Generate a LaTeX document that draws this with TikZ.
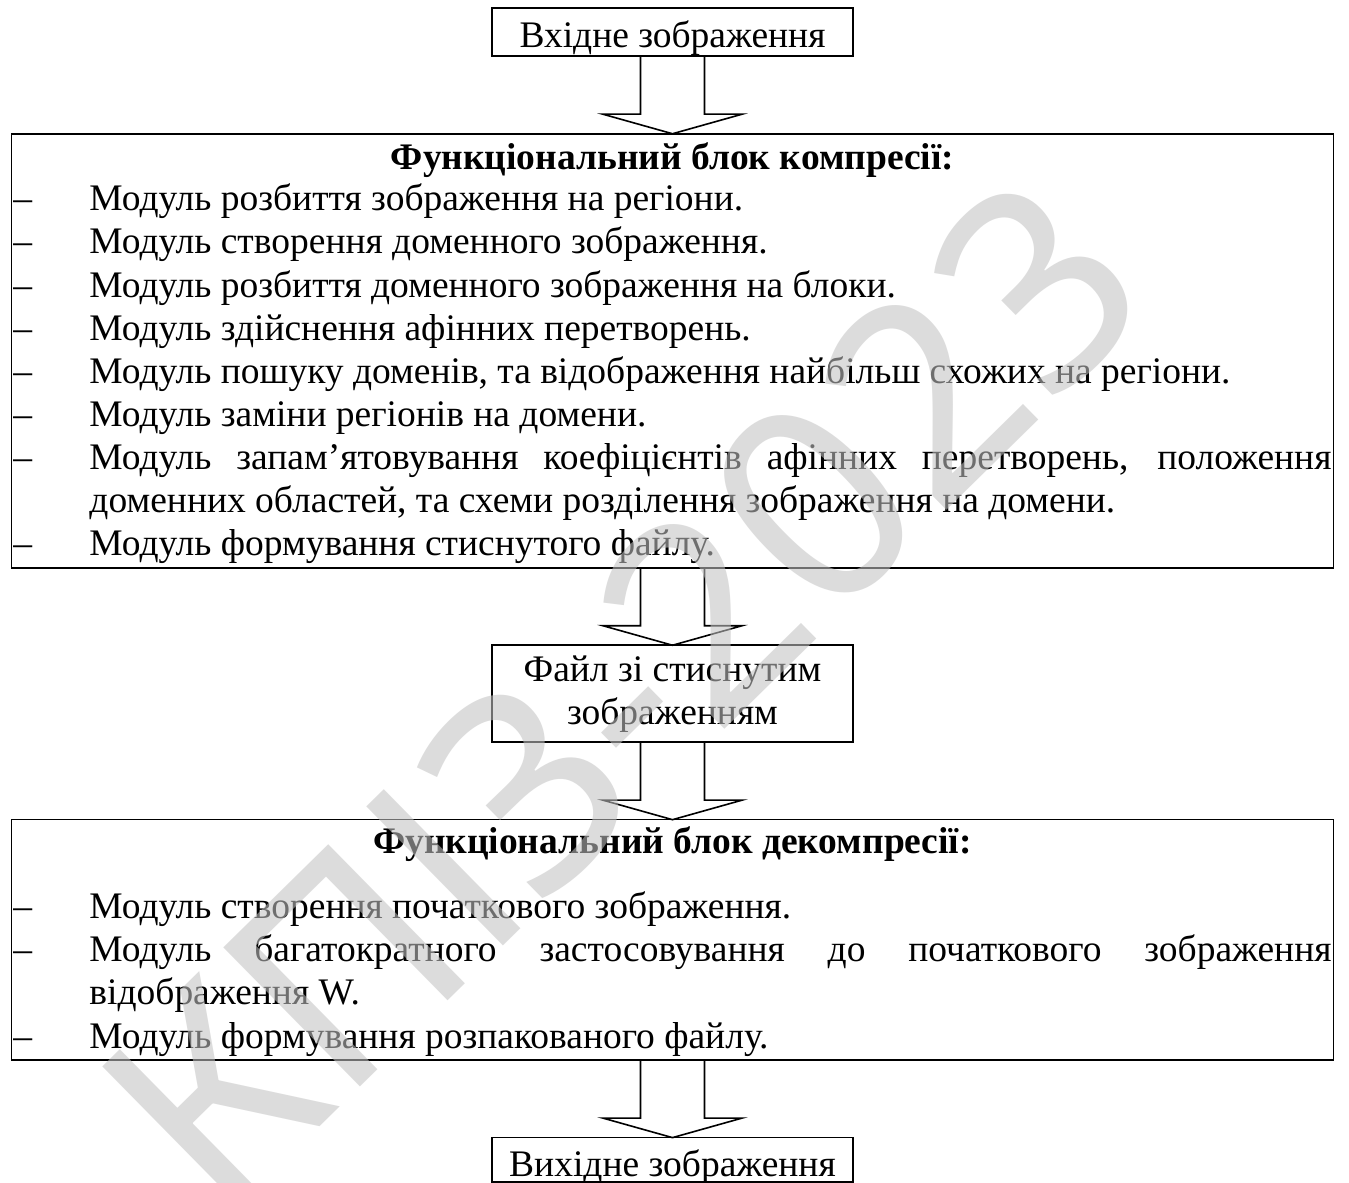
\documentclass[tikz,border=0pt]{standalone}
\usepackage{fontspec}
\setmainfont{Liberation Serif}
\newfontfamily\markfont{Noto Sans}
\usepackage{tikz}
\usetikzlibrary{positioning,calc}

\hyphenpenalty=10000
\exhyphenpenalty=10000
\tolerance=10000

% one list line: dash at the border, text on a hanging indent
\newcommand{\moditem}{\par\noindent\hangindent=28.4pt\hangafter=1\makebox[28.4pt][l]{–}}

\begin{document}
\begin{tikzpicture}[node distance=28.95pt]
        \tikzset{
          smallbox/.style={
            draw,
            line width=0.6pt,
            outer sep=0pt,
            inner ysep=0pt,
            minimum width=134.8pt,
            align=center,
            font=\fontsize{14}{16.1}\selectfont
          },
          modbox/.style={
            draw,
            line width=0.6pt,
            outer sep=0pt,
            inner xsep=0.75pt,
            inner ysep=0pt,
            text width=492.3pt,
            align=justify,
            font=\fontsize{14}{16.1}\selectfont
          },
          fatarrow/.style={
            line width=0.6pt,
            to path={
              ($(\tikztostart)+(-11.95pt,0)$) -- ($(\tikztotarget)+(-11.95pt,7.3pt)$)
              -- ($(\tikztotarget)+(-26pt,7.3pt)$) -- (\tikztotarget)
              -- ($(\tikztotarget)+(26pt,7.3pt)$) -- ($(\tikztotarget)+(11.95pt,7.3pt)$)
              -- ($(\tikztostart)+(11.95pt,0)$)
            }
          }
        }
        \path[use as bounding box,fill=white] (-251.18pt,0pt) rectangle (252.67pt,-441.85pt);

        \node[smallbox,text height=14.6pt,text depth=3.4pt,anchor=north] (input) at (0,-3pt) {Вхідне зображення};
        \node[modbox,below=of input] (comp) {%
          {\centering\rule{0pt}{13.45pt}\textbf{Функціональний блок компресії:}\par}
          \vspace{-0.75pt}
          \moditem Модуль розбиття зображення на регіони.
          \moditem Модуль створення доменного зображення.
          \moditem Модуль розбиття доменного зображення на блоки.
          \moditem Модуль здійснення афінних перетворень.
          \moditem Модуль пошуку доменів, та відображення найбільш схожих на регіони.
          \moditem Модуль заміни регіонів на домени.
          \moditem Модуль запам’ятовування коефіцієнтів афінних перетворень, положення\linebreak
            доменних областей, та схеми розділення зображення на домени.
          \moditem Модуль формування стиснутого файлу.\rule[-4.5pt]{0pt}{4.5pt}};
        \node[smallbox,minimum height=36.2pt,below=of comp] (file) {Файл зі стиснутим\\зображенням};
        \node[modbox,below=of file] (decomp) {%
          {\centering\rule{0pt}{12.7pt}\textbf{Функціональний блок декомпресії:}\par}
          \vspace{8.2pt}
          \moditem Модуль створення початкового зображення.
          \moditem Модуль багатократного застосовування до початкового зображення\linebreak
            відображення W.
          \moditem Модуль формування розпакованого файлу.\rule[-4.5pt]{0pt}{4.5pt}};
        \node[smallbox,text height=14.6pt,text depth=2pt,below=of decomp] (output) {Вихідне зображення};

        \draw[fatarrow] (input.south) to (comp.north);
        \draw[fatarrow] (comp.south) to (file.north);
        \draw[fatarrow] (file.south) to (decomp.north);
        \draw[fatarrow] (decomp.south) to (output.north);

        % watermark over the whole sheet
        \node[rotate=44.5,text=black!24,text opacity=0.57,font=\markfont\fontsize{102}{102}\selectfont] (mark) at (-18.9pt,-258.8pt) {КПІЗ-2023};
      \end{tikzpicture}
\end{document}
